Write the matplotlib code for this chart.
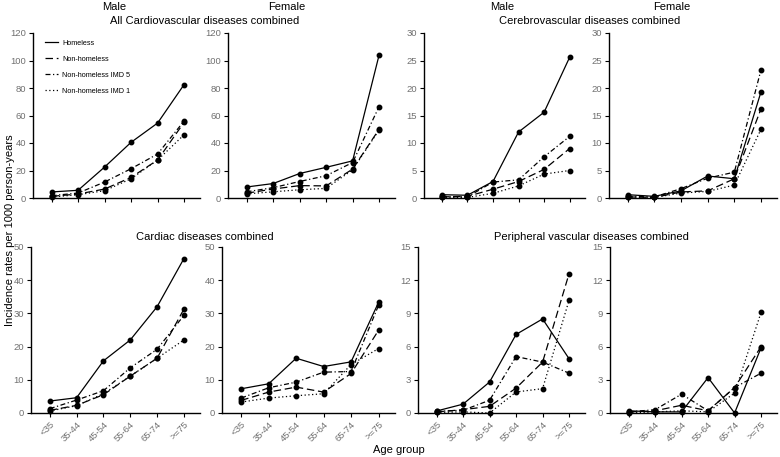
import matplotlib.pyplot as plt

plt.rcParams['font.family'] = ['Liberation Sans', 'DejaVu Sans']

age_groups = ["<35", "35-44", "45-54", "55-64", "65-74", ">=75"]
group_names = ["Homeless", "Non-homeless", "Non-homeless IMD 5", "Non-homeless IMD 1"]

# rows: homeless, non-homeless, IMD 5, IMD 1
all_cvd_male = [[4.4, 5.6, 22.5, 40.5, 54.5, 82.5],
                [1.2, 2.9, 6.5, 15.0, 27.6, 55.0],
                [1.7, 3.6, 11.6, 21.3, 32.0, 56.0],
                [0.7, 2.4, 5.3, 14.0, 27.6, 46.0]]
all_cvd_female = [[8.0, 10.5, 17.8, 22.3, 27.0, 104.0],
                  [3.5, 6.5, 9.0, 8.8, 21.0, 50.0],
                  [4.5, 7.5, 12.0, 16.2, 25.8, 66.5],
                  [3.0, 4.5, 6.0, 7.0, 20.5, 49.5]]
cerebro_male = [[0.6, 0.5, 3.0, 12.0, 15.6, 25.6],
                [0.2, 0.3, 1.6, 3.0, 5.2, 9.0],
                [0.3, 0.2, 2.9, 3.3, 7.5, 11.2],
                [0.1, 0.1, 0.85, 2.2, 4.35, 5.0]]
cerebro_female = [[0.6, 0.3, 1.3, 4.0, 3.5, 19.3],
                  [0.2, 0.1, 1.1, 1.3, 3.5, 16.2],
                  [0.3, 0.2, 1.7, 3.6, 4.7, 23.3],
                  [0.1, 0.1, 0.9, 1.2, 2.35, 12.5]]
cardiac_male = [[3.6, 4.6, 15.7, 22.0, 32.0, 46.5],
                [0.8, 2.3, 5.5, 11.1, 16.5, 31.3],
                [1.3, 3.9, 6.7, 13.6, 19.2, 29.4],
                [0.6, 2.2, 5.8, 11.1, 16.5, 22.0]]
cardiac_female = [[7.3, 8.8, 16.5, 14.0, 15.4, 33.3],
                  [3.8, 6.3, 7.8, 6.3, 11.9, 24.9],
                  [4.5, 7.6, 9.3, 12.3, 12.5, 32.4],
                  [3.3, 4.5, 5.2, 5.8, 14.6, 19.4]]
peripheral_male = [[0.18, 0.8, 2.8, 7.1, 8.5, 4.9],
                   [0.1, 0.3, 0.6, 2.25, 4.6, 12.6],
                   [0.15, 0.25, 1.15, 5.1, 4.6, 3.6],
                   [0.05, 0.1, 0.0, 1.9, 2.2, 10.2]]
peripheral_female = [[0.2, 0.1, 0.1, 3.2, 0.0, 5.9],
                     [0.1, 0.2, 0.7, 0.2, 2.3, 6.0],
                     [0.1, 0.3, 1.7, 0.2, 2.3, 3.6],
                     [0.0, 0.1, 0.2, 0.1, 1.8, 9.1]]

styles = ['-', (0, (6, 3)), (0, (4, 2, 1, 2)), (0, (1, 2))]

W, H = 780, 457
fig = plt.figure(figsize=(W / 100, H / 100), dpi=100)


def px_axes(x0, x1, ytop, ybot):
    return fig.add_axes([x0 / W, 1 - ybot / H, (x1 - x0) / W, (ybot - ytop) / H])


panels = [
    (all_cvd_male, (33, 200, 33, 198), 120, 20, False),
    (all_cvd_female, (228, 395, 33, 198), 120, 20, False),
    (cerebro_male, (424, 585, 33, 198), 30, 5, False),
    (cerebro_female, (609, 777, 33, 198), 30, 5, False),
    (cardiac_male, (31, 200, 247, 413), 50, 10, True),
    (cardiac_female, (222, 395, 247, 413), 50, 10, True),
    (peripheral_male, (418, 585, 247, 413), 15, 3, True),
    (peripheral_female, (610, 777, 247, 413), 15, 3, True),
]

x = list(range(len(age_groups)))
for i, (data, box, ymax, ystep, show_x) in enumerate(panels):
    ax = px_axes(*box)
    for series, ls, name in zip(data, styles, group_names):
        ax.plot(x, series, color='black', linestyle=ls, linewidth=0.9,
                marker='o', markersize=3.2, clip_on=False, label=name)
    ax.set_xlim(-0.7, 5.6)
    ax.set_ylim(0, ymax)
    ax.set_yticks(range(0, ymax + 1, ystep))
    ax.set_xticks(x)
    if show_x:
        ax.set_xticklabels(age_groups, rotation=45, ha='right',
                           rotation_mode='anchor')
    else:
        ax.set_xticklabels([])
    for s in ['top', 'right']:
        ax.spines[s].set_visible(False)
    for s in ['left', 'bottom']:
        ax.spines[s].set_linewidth(1.0)
    ax.tick_params(length=3, width=0.8, labelsize=6.8, labelcolor='#707070',
                   pad=2)
    if i == 0:
        handles = [plt.Line2D([], [], color='black', linestyle=ls,
                              linewidth=0.9) for ls in styles]
        ax.legend(handles, group_names, loc='upper left', frameon=False,
                  fontsize=5.2, handlelength=1.9, handletextpad=0.5,
                  labelspacing=1.25, borderaxespad=0, borderpad=0,
                  bbox_to_anchor=(0.07, 0.96))

def ftext(xp, yp, s, **kw):
    fig.text(xp / W, 1 - yp / H, s, ha='center', va='center', fontsize=8, **kw)

ftext(114, 7, "Male")
ftext(287, 7, "Female")
ftext(502, 7, "Male")
ftext(672, 7, "Female")
ftext(205, 21, "All Cardiovascular diseases combined")
ftext(590, 21, "Cerebrovascular diseases combined")
ftext(205, 237, "Cardiac diseases combined")
ftext(591, 237, "Peripheral vascular diseases combined")
ftext(10, 230, "Incidence rates per 1000 person-years", rotation=90)
ftext(399, 450, "Age group")

fig.savefig("out.png", dpi=100)
